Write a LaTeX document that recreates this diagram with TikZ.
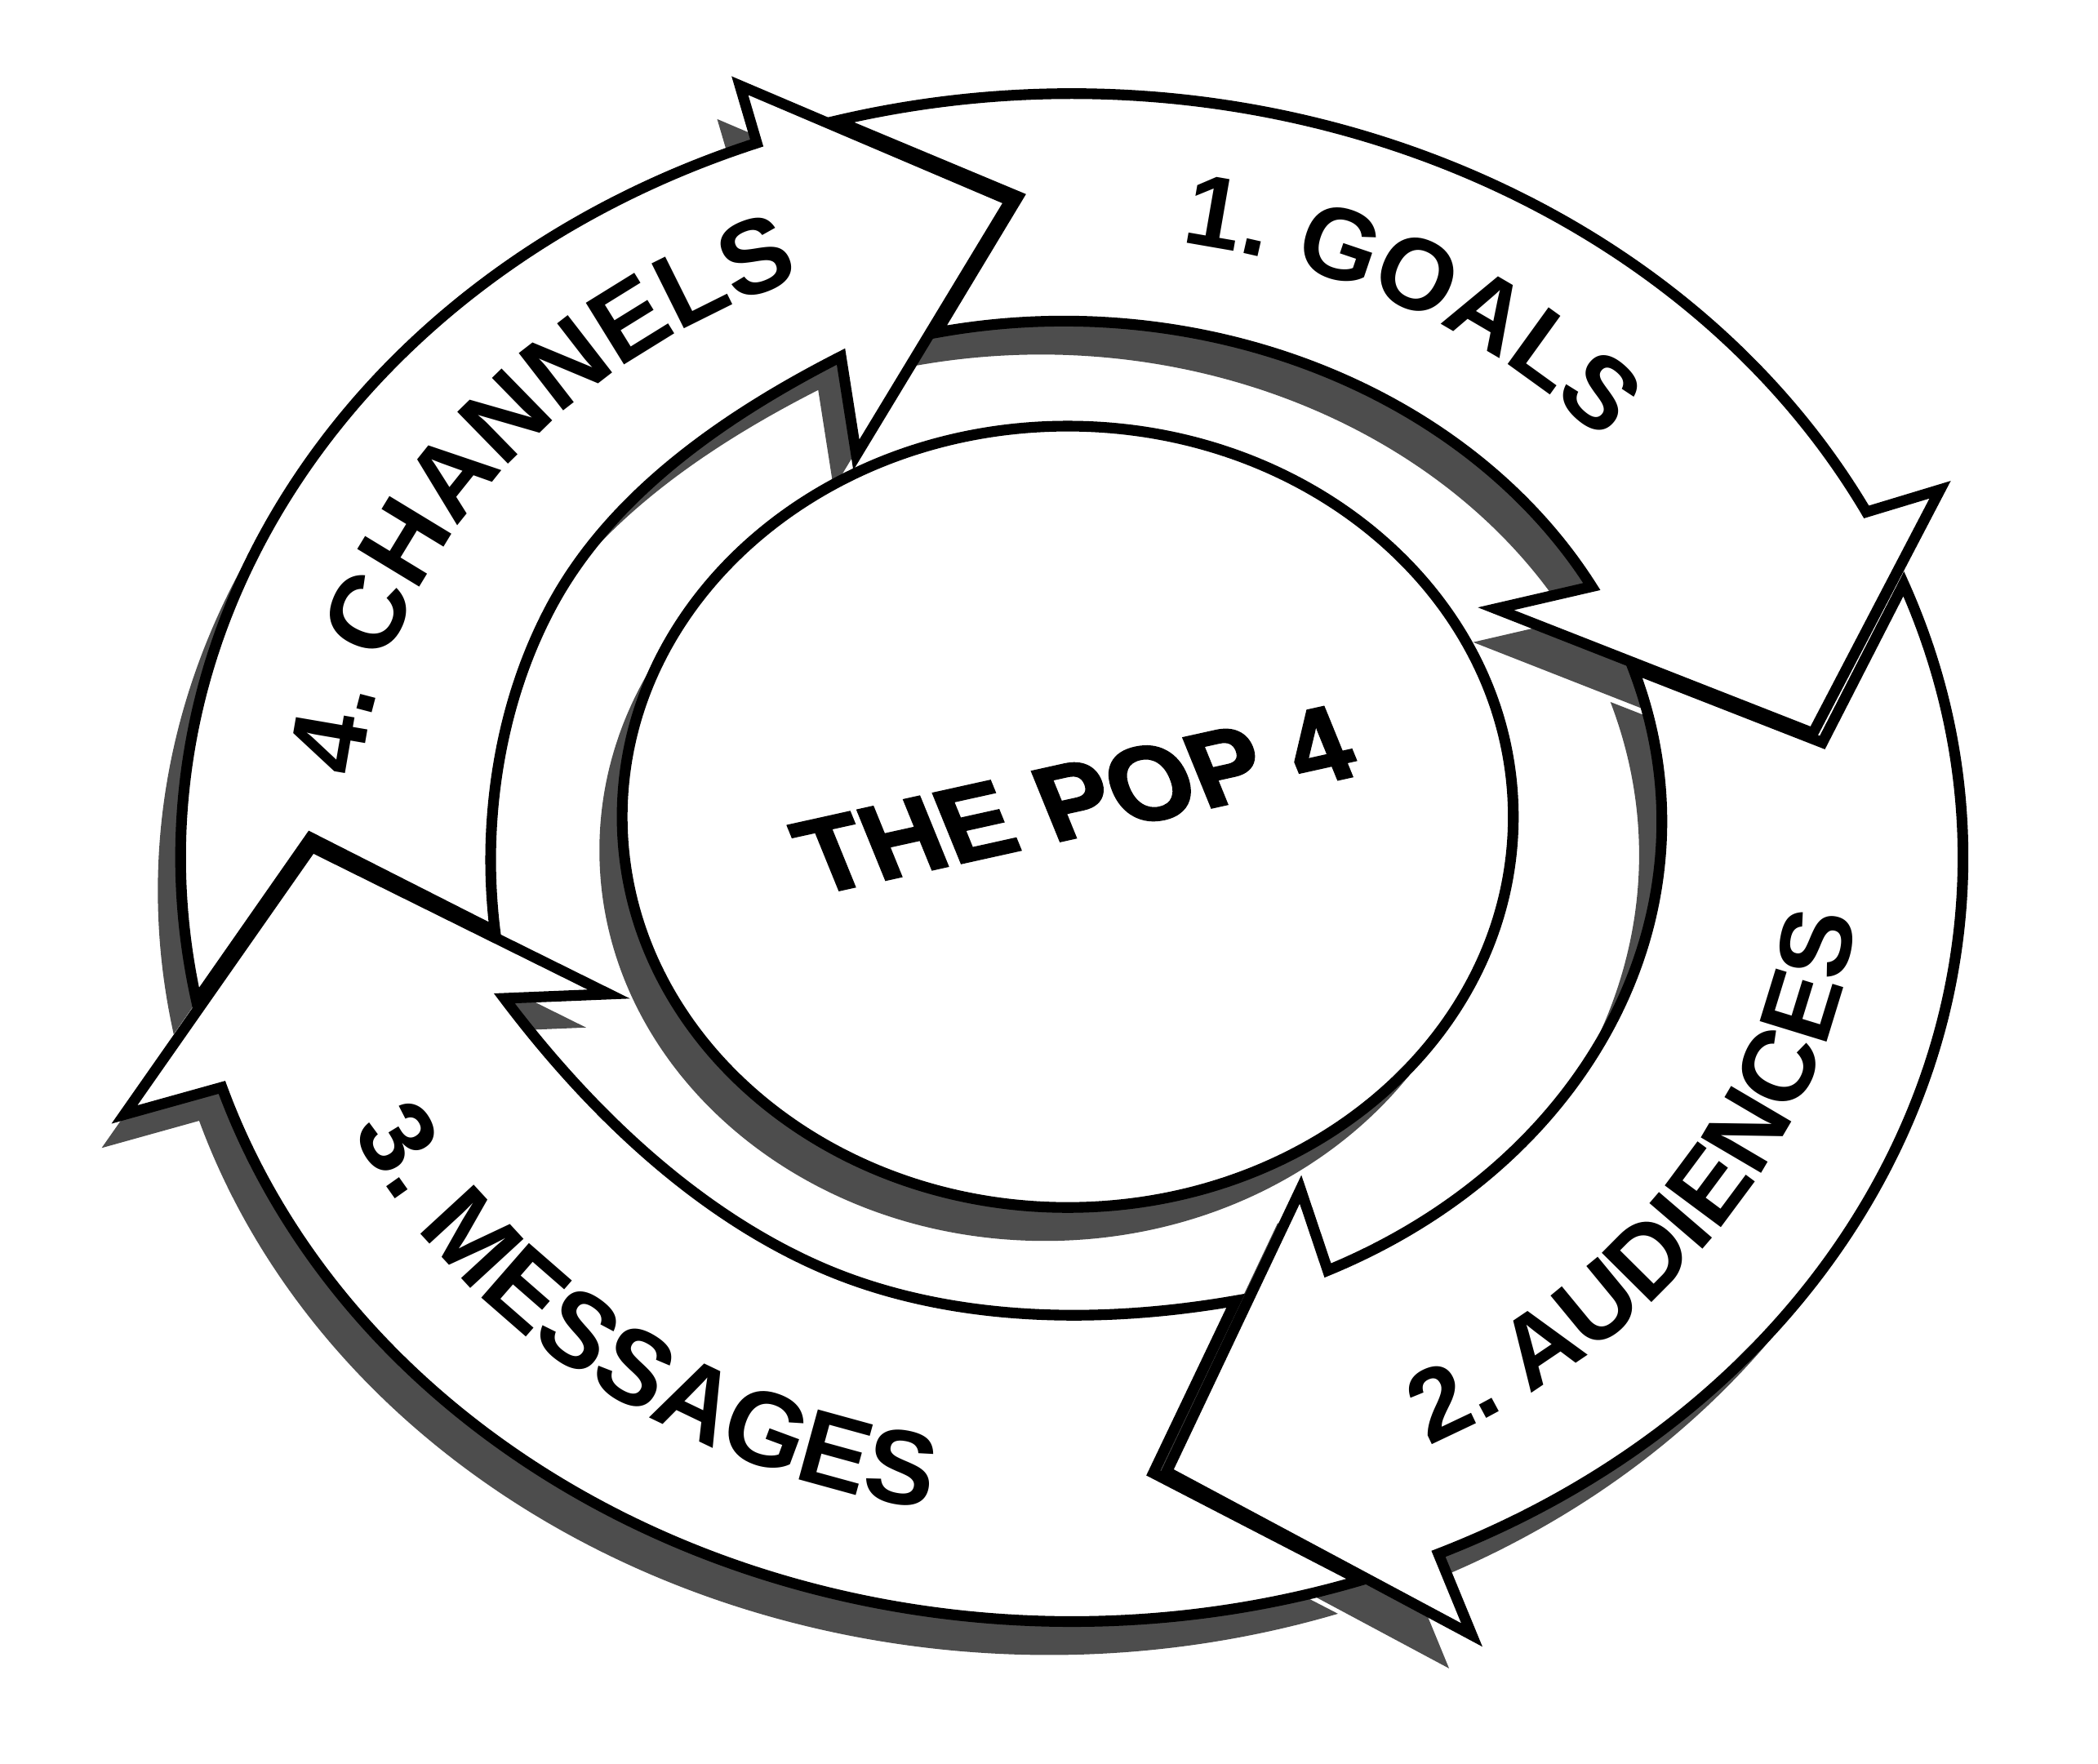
\documentclass[tikz,border=0pt]{standalone}
\usepackage{fontspec}
\usetikzlibrary{decorations.text}
\newfontface\RingFace{Liberation Sans Bold}
\newfontface\PopFace[FakeBold=2.2]{Liberation Sans Bold}
\newcommand\RingFont{\RingFace\fontsize{21.6pt}{26pt}\selectfont}
\newcommand\RingFontB{\RingFace\fontsize{22.4pt}{27pt}\selectfont}
\newcommand\PopFont{\PopFace\fontsize{22.8pt}{27pt}\selectfont}
\definecolor{shadowgray}{HTML}{4D4D4D}
\tikzset{
  arrowshape/.style={fill=white, draw=black, line width=0.08cm, line join=miter, miter limit=10},
  shadowshape/.style={fill=shadowgray},
  ringtext/.style={decorate, decoration={text along path, text align=center, text={|\RingFont|#1}}},
  ringtextb/.style={decorate, decoration={text along path, text align=center, text={|\RingFontB|#1}}}
}
\def\GoalsPath{([shift={(801,641)}]254.7:666 and 571) arc[start angle=254.7, end angle=333.1, x radius=666, y radius=571] -- (1450,366) -- (1355,548) -- (1118,455) -- ([shift={(795,614)}]332:447 and 374) arc[start angle=332, end angle=257.7, x radius=447, y radius=374] -- (761,147) -- cycle}
\def\AudPath{([shift={(801,641)}]-21:666 and 571) arc[start angle=-21, end angle=65.7, x radius=666, y radius=571] -- (1100,1222) -- (872,1100) -- (972,889) -- ([shift={(795,614)}]63.8:447 and 374) arc[start angle=63.8, end angle=-17.8, x radius=447, y radius=374] -- (1362,555) -- cycle}
\def\MesPath{([shift={(801,641)}]71.08:666 and 571) arc[start angle=71.08, end angle=162.5, x radius=666, y radius=571] -- (93,833) -- (233,633) -- (455,743) -- (376.9,746.2) .. controls (438.3,827.6) and (516.9,904) .. (610,945.7) .. controls (705.8,988.6) and (820.1,990.2) .. (923.5,972.2) -- (862,1101) -- cycle}
\def\ChaPath{([shift={(801,641)}]169.2:666 and 571) arc[start angle=169.2, end angle=249.3, x radius=666, y radius=571] -- (553,64) -- (755,150) -- (640,340) -- (628.5,266.5) .. controls (543.9,309.6) and (458.4,368) .. (413,451.5) .. controls (373.4,524.4) and (359.7,613.7) .. (370,696) -- (232,626) -- cycle}
\def\CenterPath{(798,610.5) ellipse [x radius=333, y radius=292]}
\begin{document}
\begin{tikzpicture}[x=0.01cm, y=-0.01cm]
\useasboundingbox (0,0) rectangle (1568,1318);
\fill[white] (0,0) rectangle (1568,1318);
% shadows
\begin{scope}[shift={(-17,25)}]
  \fill[shadowshape] \GoalsPath;
  \fill[shadowshape] \AudPath;
  \fill[shadowshape] \MesPath;
  \fill[shadowshape] \ChaPath;
  \fill[shadowshape] \CenterPath;
\end{scope}
% arrows
\path[arrowshape] \GoalsPath;
\path[arrowshape] \AudPath;
\path[arrowshape] \MesPath;
\path[arrowshape] \ChaPath;
\path[arrowshape] \CenterPath;
% ring texts
\path[ringtext={1. GOALS}] ([shift={(797.3,624.3)}]265:530.2 and 448.9) arc[start angle=265, end angle=335, x radius=530.2, y radius=448.9];
\path[ringtextb={4. CHANNELS}] ([shift={(797.3,624.3)}]181.5:530.2 and 448.9) arc[start angle=181.5, end angle=251.5, x radius=530.2, y radius=448.9];
\path[ringtext={2. AUDIENCES}] ([shift={(799,631.8)}]70:591.5 and 504) arc[start angle=70, end angle=-2, x radius=591.5, y radius=504];
\path[ringtextb={3. MESSAGES}] ([shift={(799,631.8)}]162:591.5 and 504) arc[start angle=162, end angle=94, x radius=591.5, y radius=504];
% center text
\node[font=\PopFont, rotate=12.5, xslant=-0.17, inner sep=0pt] (pop) at (803,598) {THE POP 4};
\end{tikzpicture}
\end{document}
